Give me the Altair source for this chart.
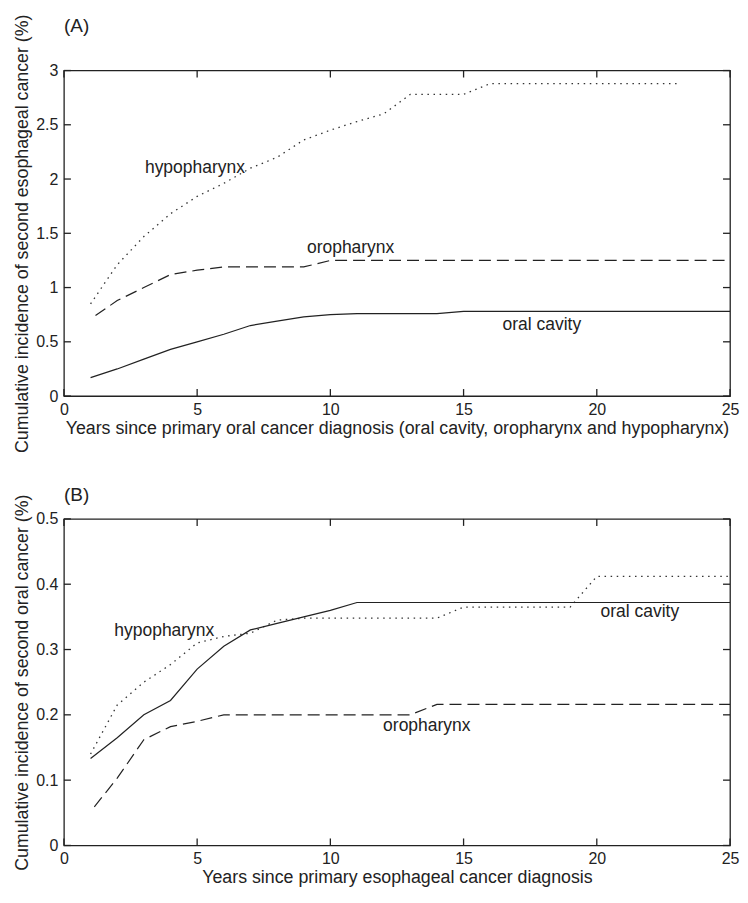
import altair as alt
import pandas as pd

# ---------------- data ----------------
# Panel A: second esophageal cancer after primary oral cancer
years_a_hypo = [1, 2, 3, 4, 5, 6, 7, 8, 9, 10, 11, 12, 13, 14, 15, 16, 17, 18, 19, 20, 21, 22, 23]
a_hypo = [0.85, 1.21, 1.47, 1.68, 1.84, 1.96, 2.10, 2.20, 2.36, 2.45, 2.53, 2.60, 2.78, 2.78,
          2.78, 2.88, 2.88, 2.88, 2.88, 2.88, 2.88, 2.88, 2.88]
years_a = [1, 2, 3, 4, 5, 6, 7, 8, 9, 10, 11, 12, 13, 14, 15, 16, 17, 18, 19, 20, 21, 22, 23, 24, 25]
a_oro = [0.71, 0.88, 1.00, 1.12, 1.16, 1.19, 1.19, 1.19, 1.19, 1.25, 1.25, 1.25, 1.25, 1.25,
         1.25, 1.25, 1.25, 1.25, 1.25, 1.25, 1.25, 1.25, 1.25, 1.25, 1.25]
a_oral = [0.17, 0.25, 0.34, 0.43, 0.50, 0.57, 0.65, 0.69, 0.73, 0.75, 0.76, 0.76, 0.76, 0.76,
          0.78, 0.78, 0.78, 0.78, 0.78, 0.78, 0.78, 0.78, 0.78, 0.78, 0.78]

# Panel B: second oral cancer after primary esophageal cancer
years_b = [1, 2, 3, 4, 5, 6, 7, 8, 9, 10, 11, 12, 13, 14, 15, 16, 17, 18, 19, 20, 21, 22, 23, 24, 25]
b_hypo = [0.14, 0.215, 0.25, 0.277, 0.31, 0.32, 0.325, 0.345, 0.348, 0.348, 0.348, 0.348, 0.348,
          0.348, 0.365, 0.365, 0.365, 0.365, 0.365, 0.412, 0.412, 0.412, 0.412, 0.412, 0.412]
b_oro = [0.052, 0.103, 0.162, 0.182, 0.19, 0.20, 0.20, 0.20, 0.20, 0.20, 0.20, 0.20, 0.20,
         0.216, 0.216, 0.216, 0.216, 0.216, 0.216, 0.216, 0.216, 0.216, 0.216, 0.216, 0.216]
b_oral = [0.133, 0.165, 0.20, 0.222, 0.27, 0.305, 0.33, 0.34, 0.35, 0.36, 0.372, 0.372, 0.372,
          0.372, 0.372, 0.372, 0.372, 0.372, 0.372, 0.372, 0.372, 0.372, 0.372, 0.372, 0.372]

# in-plot labels
a_label_text = ["hypopharynx", "oropharynx", "oral cavity"]
a_label_x = [3.04, 9.12, 16.46]
a_label_y = [2.10, 1.36, 0.656]
b_label_text = ["hypopharynx", "oral cavity", "oropharynx"]
b_label_x = [1.89, 20.14, 11.98]
b_label_y = [0.328, 0.358, 0.183]

x_ticks = [0, 5, 10, 15, 20, 25]
y_ticks_a = [0, 0.5, 1, 1.5, 2, 2.5, 3]
y_ticks_b = [0, 0.1, 0.2, 0.3, 0.4, 0.5]

x_title_a = "Years since primary oral cancer diagnosis (oral cavity, oropharynx and hypopharynx)"
y_title_a = "Cumulative incidence of second esophageal cancer (%)"
x_title_b = "Years since primary esophageal cancer diagnosis"
y_title_b = "Cumulative incidence of second oral cancer (%)"

# ---------------- style ----------------
FONT = "Liberation Sans"
INK = "#222222"
TICK = 7          # inward tick length in pixels
W = 667
X_MAX = 25
DOT = [1.5, 4.6]
DASH = [12, 6]


def label_axis(orient, values, title):
    bottom = orient == "bottom"
    return alt.Axis(orient=orient, values=values, ticks=False, domain=False, grid=False,
                    format="~g", labelFont=FONT, labelFontSize=16, labelColor=INK,
                    labelPadding=5 if bottom else 6, labelFlush=False,
                    title=title, titleFont=FONT, titleFontSize=17.8,
                    titleFontWeight="normal", titleColor=INK,
                    titlePadding=2 if bottom else 4)


def panel(years_h, hypo, years_o, oro, years_c, oral, lab_t, lab_x, lab_y, tag, tag_dy,
          y_max, y_ticks, x_title, y_title, h):
    xs = alt.Scale(domain=[0, X_MAX], nice=False, zero=False)
    ys = alt.Scale(domain=[0, y_max], nice=False, zero=False)
    xa = label_axis("bottom", x_ticks, x_title)
    ya = label_axis("left", y_ticks, y_title)

    df_h = pd.DataFrame({"year": years_h, "value": hypo})
    df_o = pd.DataFrame({"year": years_o, "value": oro})
    df_c = pd.DataFrame({"year": years_c, "value": oral})
    df_l = pd.DataFrame({"year": lab_x, "value": lab_y, "text": lab_t})
    df_t = pd.DataFrame({"year": [0], "value": [y_max], "text": [tag]})

    X = alt.X("year:Q", scale=xs, axis=xa)
    Y = alt.Y("value:Q", scale=ys, axis=ya)

    hypo_layer = alt.Chart(df_h).mark_line(
        color="#333333", strokeWidth=1.3, strokeDash=DOT
    ).encode(x=X, y=Y)
    oro_layer = alt.Chart(df_o).mark_line(
        color=INK, strokeWidth=1.2, strokeDash=DASH, strokeDashOffset=12
    ).encode(x=X, y=Y)
    oral_layer = alt.Chart(df_c).mark_line(color=INK, strokeWidth=1.2).encode(x=X, y=Y)

    # inward ticks of the MATLAB-style box (tick length converted to data units)
    len_x = X_MAX * TICK / W
    len_y = y_max * TICK / h
    nx, ny = len(x_ticks), len(y_ticks)
    df_tb = pd.DataFrame({"year": x_ticks, "lo": [0.0] * nx, "hi": [len_y] * nx})
    df_tt = pd.DataFrame({"year": x_ticks, "lo": [y_max - len_y] * nx, "hi": [y_max] * nx})
    df_tl = pd.DataFrame({"value": y_ticks, "lo": [0.0] * ny, "hi": [len_x] * ny})
    df_tr = pd.DataFrame({"value": y_ticks, "lo": [X_MAX - len_x] * ny, "hi": [X_MAX] * ny})
    tick_kw = dict(color=INK, strokeWidth=1.3)
    YL = alt.Y("lo:Q", scale=ys, axis=ya)
    XL = alt.X("lo:Q", scale=xs, axis=xa)
    t_bottom = alt.Chart(df_tb).mark_rule(**tick_kw).encode(x=X, y=YL, y2="hi:Q")
    t_top = alt.Chart(df_tt).mark_rule(**tick_kw).encode(x=X, y=YL, y2="hi:Q")
    t_left = alt.Chart(df_tl).mark_rule(**tick_kw).encode(y=Y, x=XL, x2="hi:Q")
    t_right = alt.Chart(df_tr).mark_rule(**tick_kw).encode(y=Y, x=XL, x2="hi:Q")

    text_layer = alt.Chart(df_l).mark_text(
        align="left", baseline="middle", font=FONT, fontSize=17.5, color=INK
    ).encode(x=X, y=Y, text="text:N")
    tag_layer = alt.Chart(df_t).mark_text(
        align="left", baseline="middle", font=FONT, fontSize=19, color=INK, dy=tag_dy
    ).encode(x=X, y=Y, text="text:N")

    return alt.layer(hypo_layer, oro_layer, oral_layer, t_bottom, t_top, t_left, t_right,
                     text_layer, tag_layer).properties(width=W, height=h)


chart_a = panel(years_a_hypo, a_hypo, years_a, a_oro, years_a, a_oral,
                a_label_text, a_label_x, a_label_y, "(A)", -45,
                3, y_ticks_a, x_title_a, y_title_a, 326)
chart_b = panel(years_b, b_hypo, years_b, b_oro, years_b, b_oral,
                b_label_text, b_label_x, b_label_y, "(B)", -24,
                0.5, y_ticks_b, x_title_b, y_title_b, 327)

chart = alt.vconcat(chart_a, chart_b, spacing=31).properties(
    padding={"left": 5, "top": 4, "right": 0, "bottom": 0}
).configure(font=FONT).configure_view(stroke=INK, strokeWidth=1.3)

chart.save("out.html", embed_options={"renderer": "svg", "actions": False})
